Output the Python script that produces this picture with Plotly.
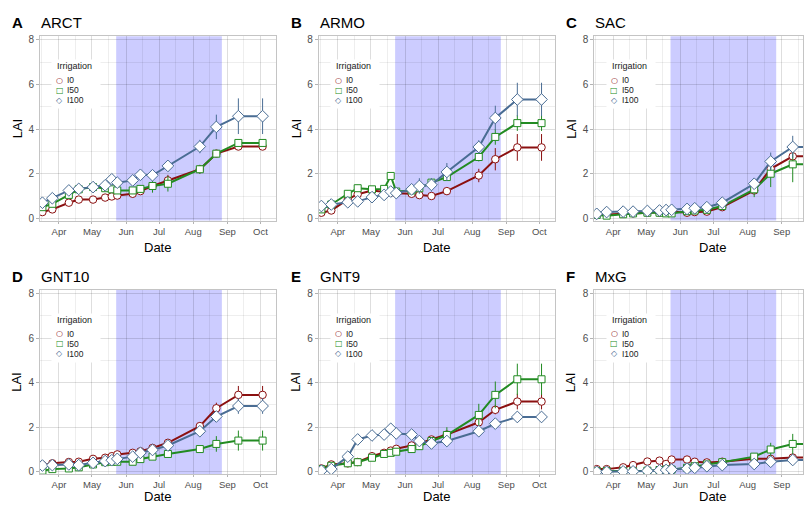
import plotly.graph_objects as go

# ---------------- data ----------------
DATES = ["2015-03-17", "2015-03-26", "2015-04-10", "2015-04-19", "2015-05-02",
         "2015-05-13", "2015-05-19", "2015-05-24", "2015-06-07", "2015-06-14",
         "2015-06-25", "2015-07-09", "2015-08-07", "2015-08-22", "2015-09-11",
         "2015-10-03"]
PANEL_NAMES = ["ARCT", "ARMO", "SAC", "GNT10", "GNT9", "MxG"]
PANEL_LETTERS = ["A", "B", "C", "D", "E", "F"]
TREATMENTS = ["I0", "I50", "I100"]
SHADE_START = "2015-05-23"
SHADE_END = "2015-08-27"
MONTH_TICKS = ["2015-04-01", "2015-05-01", "2015-06-01", "2015-07-01",
               "2015-08-01", "2015-09-01", "2015-10-01"]
MONTH_LABELS = ["Apr", "May", "Jun", "Jul", "Aug", "Sep", "Oct"]
MINOR_TICKS = ["2015-03-16", "2015-04-16", "2015-05-16", "2015-06-16",
               "2015-07-16", "2015-08-16", "2015-09-16"]
Y_TICKS = [0, 2, 4, 6, 8]
Y_MINOR = [1, 3, 5, 7]

ARCT_I0 = [0.28, 0.4, 0.7, 0.84, 0.84, 0.93, 0.98, 1.02, 1.1, 1.22, 1.45, 1.7, 2.2, 2.9, 3.22, 3.22]
ARCT_I50 = [0.5, 0.65, 1.05, 1.3, 1.4, 1.35, 1.3, 1.25, 1.25, 1.32, 1.45, 1.55, 2.2, 2.9, 3.38, 3.38]
ARCT_I100 = [0.7, 0.9, 1.25, 1.32, 1.4, 1.48, 1.75, 1.6, 1.7, 1.95, 1.93, 2.35, 3.22, 4.1, 4.58, 4.58]
ARMO_I0 = [0.25, 0.35, 0.85, 1.08, 1.25, 1.2, 1.15, 1.12, 1.1, 1.04, 1.0, 1.22, 1.92, 2.65, 3.18, 3.18]
ARMO_I50 = [0.4, 0.62, 1.1, 1.35, 1.3, 1.32, 1.9, 1.2, 1.25, 1.35, 1.6, 1.85, 2.75, 3.65, 4.27, 4.27]
ARMO_I100 = [0.55, 0.62, 0.72, 0.76, 0.95, 1.05, 1.2, 1.13, 1.3, 1.45, 1.5, 2.08, 3.2, 4.5, 5.33, 5.33]
SAC_I0 = [0.15, 0.18, 0.2, 0.22, 0.25, 0.25, 0.27, 0.3, 0.25, 0.28, 0.3, 0.5, 1.25, 2.22, 2.78, 2.78]
SAC_I50 = [0.15, 0.12, 0.18, 0.22, 0.25, 0.25, 0.22, 0.22, 0.32, 0.35, 0.38, 0.55, 1.3, 2.0, 2.42, 2.42]
SAC_I100 = [0.2, 0.28, 0.3, 0.3, 0.33, 0.35, 0.37, 0.38, 0.42, 0.45, 0.5, 0.7, 1.55, 2.55, 3.2, 3.2]
GNT10_I0 = [0.3, 0.38, 0.44, 0.45, 0.58, 0.63, 0.7, 0.78, 0.85, 0.92, 1.07, 1.3, 2.05, 2.85, 3.45, 3.45]
GNT10_I50 = [0.05, 0.12, 0.15, 0.2, 0.33, 0.43, 0.45, 0.45, 0.45, 0.57, 0.68, 0.8, 1.02, 1.25, 1.4, 1.4]
GNT10_I100 = [0.28, 0.3, 0.33, 0.3, 0.4, 0.48, 0.52, 0.58, 0.68, 0.85, 0.98, 1.18, 1.82, 2.48, 2.95, 2.95]
GNT9_I0 = [0.15, 0.33, 0.38, 0.44, 0.7, 0.85, 0.95, 1.03, 1.18, 1.27, 1.45, 1.67, 2.22, 2.78, 3.15, 3.15]
GNT9_I50 = [0.12, 0.27, 0.38, 0.43, 0.63, 0.8, 0.85, 0.9, 1.02, 1.15, 1.38, 1.65, 2.55, 3.45, 4.15, 4.15]
GNT9_I100 = [0.05, 0.12, 0.68, 1.45, 1.63, 1.67, 1.93, 1.72, 1.67, 1.38, 1.27, 1.38, 1.82, 2.16, 2.46, 2.46]
MXG_I0 = [0.12, 0.12, 0.2, 0.3, 0.46, 0.5, 0.35, 0.55, 0.55, 0.45, 0.42, 0.45, 0.58, 0.58, 0.64, 0.64]
MXG_I50 = [0.03, 0.03, 0.03, 0.03, 0.05, 0.08, 0.1, 0.1, 0.18, 0.25, 0.33, 0.43, 0.68, 1.0, 1.25, 1.25]
MXG_I100 = [0.0, 0.0, 0.02, 0.02, 0.04, 0.06, 0.08, 0.1, 0.14, 0.18, 0.25, 0.3, 0.35, 0.45, 0.53, 0.53]

ARCT_I0_SE = [0.05, 0.05, 0.05, 0.05, 0.05, 0.05, 0.05, 0.05, 0.05, 0.05, 0.1, 0.25, 0.1, 0.1, 0.1, 0.1]
ARCT_I50_SE = [0.1, 0.1, 0.1, 0.1, 0.15, 0.1, 0.1, 0.1, 0.15, 0.15, 0.3, 0.35, 0.2, 0.1, 0.1, 0.1]
ARCT_I100_SE = [0.1, 0.1, 0.1, 0.1, 0.1, 0.1, 0.1, 0.1, 0.1, 0.1, 0.1, 0.15, 0.3, 0.55, 0.8, 0.8]
ARMO_I0_SE = [0.05, 0.05, 0.1, 0.1, 0.1, 0.1, 0.1, 0.05, 0.05, 0.05, 0.05, 0.15, 0.3, 0.5, 0.6, 0.6]
ARMO_I50_SE = [0.1, 0.1, 0.15, 0.15, 0.1, 0.1, 0.1, 0.1, 0.1, 0.1, 0.15, 0.15, 0.2, 0.35, 0.35, 0.35]
ARMO_I100_SE = [0.1, 0.1, 0.1, 0.1, 0.15, 0.15, 0.15, 0.15, 0.2, 0.35, 0.3, 0.4, 0.3, 0.55, 0.75, 0.75]
SAC_I0_SE = [0.05, 0.05, 0.05, 0.05, 0.05, 0.05, 0.05, 0.05, 0.05, 0.05, 0.05, 0.1, 0.15, 0.25, 0.2, 0.2]
SAC_I50_SE = [0.05, 0.05, 0.05, 0.05, 0.05, 0.05, 0.05, 0.05, 0.05, 0.05, 0.05, 0.1, 0.35, 0.6, 0.8, 0.8]
SAC_I100_SE = [0.05, 0.05, 0.05, 0.05, 0.05, 0.05, 0.05, 0.05, 0.05, 0.05, 0.05, 0.1, 0.2, 0.4, 0.5, 0.5]
GNT10_I0_SE = [0.05, 0.05, 0.05, 0.05, 0.05, 0.05, 0.05, 0.05, 0.05, 0.05, 0.05, 0.1, 0.15, 0.25, 0.4, 0.4]
GNT10_I50_SE = [0.05, 0.05, 0.05, 0.05, 0.05, 0.05, 0.05, 0.05, 0.05, 0.05, 0.05, 0.05, 0.1, 0.35, 0.45, 0.45]
GNT10_I100_SE = [0.05, 0.05, 0.05, 0.05, 0.05, 0.05, 0.05, 0.05, 0.05, 0.05, 0.05, 0.1, 0.1, 0.2, 0.35, 0.35]
GNT9_I0_SE = [0.05, 0.05, 0.05, 0.05, 0.05, 0.05, 0.05, 0.05, 0.05, 0.05, 0.05, 0.1, 0.2, 0.2, 0.35, 0.35]
GNT9_I50_SE = [0.05, 0.05, 0.05, 0.05, 0.05, 0.05, 0.05, 0.05, 0.05, 0.05, 0.1, 0.35, 0.5, 0.6, 0.7, 0.7]
GNT9_I100_SE = [0.05, 0.05, 0.1, 0.2, 0.2, 0.15, 0.1, 0.15, 0.1, 0.1, 0.1, 0.1, 0.15, 0.2, 0.25, 0.25]
MXG_I0_SE = [0.03, 0.03, 0.03, 0.03, 0.03, 0.03, 0.03, 0.03, 0.03, 0.03, 0.03, 0.03, 0.05, 0.15, 0.1, 0.1]
MXG_I50_SE = [0.03, 0.03, 0.03, 0.03, 0.03, 0.03, 0.03, 0.03, 0.03, 0.03, 0.03, 0.03, 0.1, 0.3, 0.45, 0.45]
MXG_I100_SE = [0.03, 0.03, 0.03, 0.03, 0.03, 0.03, 0.03, 0.03, 0.03, 0.03, 0.03, 0.03, 0.05, 0.1, 0.15, 0.15]

PANEL_VALUES = [
    [ARCT_I0, ARCT_I50, ARCT_I100],
    [ARMO_I0, ARMO_I50, ARMO_I100],
    [SAC_I0, SAC_I50, SAC_I100],
    [GNT10_I0, GNT10_I50, GNT10_I100],
    [GNT9_I0, GNT9_I50, GNT9_I100],
    [MXG_I0, MXG_I50, MXG_I100],
]
PANEL_ERRORS = [
    [ARCT_I0_SE, ARCT_I50_SE, ARCT_I100_SE],
    [ARMO_I0_SE, ARMO_I50_SE, ARMO_I100_SE],
    [SAC_I0_SE, SAC_I50_SE, SAC_I100_SE],
    [GNT10_I0_SE, GNT10_I50_SE, GNT10_I100_SE],
    [GNT9_I0_SE, GNT9_I50_SE, GNT9_I100_SE],
    [MXG_I0_SE, MXG_I50_SE, MXG_I100_SE],
]

# ---------------- styling ----------------
W, H = 804, 510
FONT = "Liberation Sans, Arial, sans-serif"
COLORS = ["#8b1010", "#228b22", "#4a6d94"]
SYMBOLS = ["circle", "square", "diamond"]
SIZES = [7.5, 7, 9]
LEG_GLYPHS = ["\u25cb", "\u25a1", "\u25c7"]
COL_LEFT = [40, 319.3, 595]
ROW_TOP = [34.5, 290.5]
PLOT_W, PLOT_H = 236, 186.2
X_RANGE = ["2015-03-14 18:00", "2015-10-14 21:00"]
X_RANGE_CLIP = ["2015-03-14 18:00", "2015-09-20 08:00"]
Y_RANGE = [-0.1, 8.17]
GRID_MAJOR = "rgba(0,0,0,0.13)"
GRID_MINOR = "rgba(0,0,0,0.065)"


def px(x):
    return x / W


def py(y):
    return 1 - y / H


fig = go.Figure()
shapes = []
annotations = []
layout = {}

for k in range(6):
    r, c = divmod(k, 3)
    n = "" if k == 0 else str(k + 1)
    left = COL_LEFT[c]
    right = min(left + PLOT_W, W)
    top = ROW_TOP[r]
    bottom = top + PLOT_H

    layout["xaxis" + n] = dict(
        domain=[px(left), px(right)], anchor="y" + n, type="date",
        range=X_RANGE_CLIP if c == 2 else X_RANGE,
        tickmode="array", tickvals=MONTH_TICKS, ticktext=MONTH_LABELS,
        ticks="outside", ticklen=2, tickcolor="#b3b3b3",
        tickfont=dict(size=9.5, color="#4d4d4d", family=FONT),
        showgrid=True, gridcolor=GRID_MAJOR, gridwidth=1,
        minor=dict(showgrid=True, gridcolor=GRID_MINOR, gridwidth=1,
                   tickmode="array", tickvals=MINOR_TICKS),
        showline=True, mirror=True, linecolor="#c4c4c4", linewidth=1,
        zeroline=False, fixedrange=True,
    )
    layout["yaxis" + n] = dict(
        domain=[py(bottom), py(top)], anchor="x" + n,
        range=Y_RANGE, tickmode="array", tickvals=Y_TICKS,
        ticks="outside", ticklen=3, tickcolor="#b3b3b3",
        tickfont=dict(size=10, color="#4d4d4d", family=FONT),
        showgrid=True, gridcolor=GRID_MAJOR, gridwidth=1,
        minor=dict(showgrid=True, gridcolor=GRID_MINOR, gridwidth=1,
                   tickmode="array", tickvals=Y_MINOR),
        showline=True, mirror=True, linecolor="#c4c4c4", linewidth=1,
        zeroline=False, fixedrange=True,
    )

    # shaded period (below the semi-transparent grid, under the traces)
    shapes.append(dict(type="rect", xref="x" + n, yref="y" + n + " domain",
                       x0=SHADE_START, x1=SHADE_END, y0=0, y1=1,
                       fillcolor="#ccccff", line=dict(width=0),
                       layer="below"))

    # traces
    for t in range(3):
        fig.add_trace(go.Scatter(
            x=DATES, y=PANEL_VALUES[k][t], mode="lines+markers",
            name=TREATMENTS[t], showlegend=False, cliponaxis=True,
            xaxis="x" + n, yaxis="y" + n,
            line=dict(color=COLORS[t], width=2),
            marker=dict(symbol=SYMBOLS[t], size=SIZES[t], color="white",
                        line=dict(color=COLORS[t], width=1)),
            error_y=dict(type="data", array=PANEL_ERRORS[k][t], visible=True,
                         color=COLORS[t], thickness=1, width=0),
        ))

    # panel titles
    annotations.append(dict(text="<b>" + PANEL_LETTERS[k] + "</b>", xref="paper", yref="paper",
                            x=px(left - 30), y=py(top - 13.5), xanchor="left", yanchor="middle",
                            showarrow=False, font=dict(size=15, color="black", family=FONT)))
    annotations.append(dict(text=PANEL_NAMES[k], xref="paper", yref="paper",
                            x=px(left - 1), y=py(top - 13.5), xanchor="left", yanchor="middle",
                            showarrow=False, font=dict(size=15, color="black", family=FONT)))
    # axis titles
    annotations.append(dict(text="LAI", xref="paper", yref="paper", textangle=-90,
                            x=px(left - 23), y=py(top + PLOT_H / 2), xanchor="center", yanchor="middle",
                            showarrow=False, font=dict(size=13, color="black", family=FONT)))
    annotations.append(dict(text="Date", xref="paper", yref="paper",
                            x=px(left + PLOT_W / 2), y=py(bottom + 27 if r == 0 else bottom + 23),
                            xanchor="center", yanchor="middle",
                            showarrow=False, font=dict(size=13, color="black", family=FONT)))
    # legend box
    annotations.append(dict(text=" ", xref="paper", yref="paper",
                            x=px(left + 11.5), y=py(top + 23.5), xanchor="left", yanchor="top",
                            width=48, height=48, borderpad=0, bgcolor="white",
                            showarrow=False, font=dict(size=8, family=FONT)))
    annotations.append(dict(text="Irrigation", xref="paper", yref="paper",
                            x=px(left + 15.5), y=py(top + 30.5), xanchor="left", yanchor="middle",
                            showarrow=False, font=dict(size=9, color="#222222", family=FONT)))
    for t in range(3):
        yy = top + 44.5 + 10 * t
        annotations.append(dict(text=LEG_GLYPHS[t], xref="paper", yref="paper",
                                x=px(left + 20), y=py(yy), xanchor="center", yanchor="middle",
                                showarrow=False,
                                font=dict(size=8, color=COLORS[t], family="DejaVu Sans", weight="bold")))
        annotations.append(dict(text=TREATMENTS[t], xref="paper", yref="paper",
                                x=px(left + 25.5), y=py(yy), xanchor="left", yanchor="middle",
                                showarrow=False, font=dict(size=8.5, color="#222222", family=FONT)))

fig.update_layout(
    width=W, height=H, margin=dict(l=0, r=0, t=0, b=0),
    paper_bgcolor="white", plot_bgcolor="white",
    showlegend=False, shapes=shapes, annotations=annotations,
    font=dict(family=FONT), **layout,
)

fig.write_html("out.html", config={"displayModeBar": False})
